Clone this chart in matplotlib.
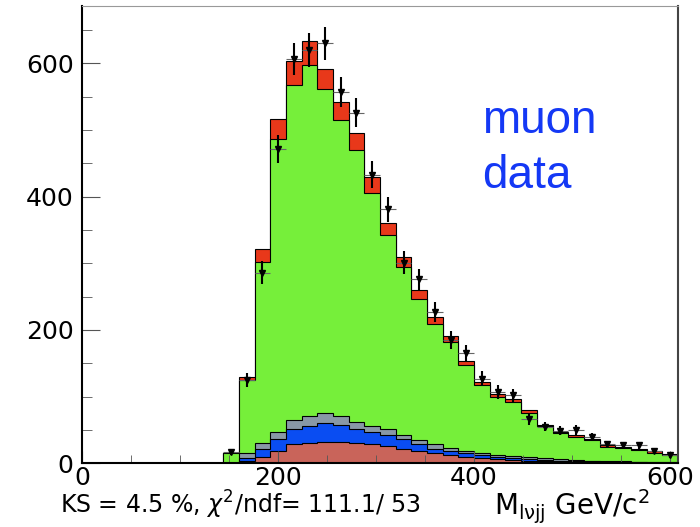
import numpy as np
import matplotlib.pyplot as plt
from matplotlib.ticker import MultipleLocator

plt.rcParams['font.family'] = ['DejaVu Sans']
plt.rcParams['mathtext.fontset'] = 'dejavusans'

# 16 GeV bins from 144 to 608
bin_lo = 144
bin_w = 16
nbins = 29
edges = bin_lo + bin_w * np.arange(nbins + 1)
centers = edges[:-1] + bin_w / 2

# stack tops (cumulative)
red_top = [15, 129, 321, 517, 603, 633, 591, 542, 496, 430, 361, 310, 260, 220, 191,
           154, 122, 104, 96, 80, 58, 47, 42, 37, 27, 25, 22, 18, 14]
green_top = [15, 125, 302, 487, 568, 598, 561, 515, 470, 405, 343, 294, 247, 209, 182,
             147, 117, 99, 92, 76, 56, 45, 40, 35, 25, 23, 20, 16, 12]
gray_top = [0, 16, 31, 47, 65, 71, 75, 71, 62, 56, 51, 43, 35, 29, 23,
            19, 16, 13, 11, 9, 7.5, 6, 5, 4, 3.5, 3, 2.5, 2, 1.5]
blue_top = [0, 8.5, 22, 36, 52, 56, 60, 58, 52, 47, 42, 36, 29, 22, 18,
            15, 12, 10, 8, 6.5, 5, 4, 3.5, 3, 2.5, 2, 1.5, 1.2, 1]
salmon_top = [0, 3, 10, 19, 29, 31, 32, 32, 31, 29, 26, 22, 19, 16, 12,
              10, 7.5, 6, 5, 4, 3, 2.5, 2, 1.5, 1.2, 1, 0.8, 0.6, 0.5]

data = [17, 125, 286, 472, 606, 620, 630, 557, 526, 433, 381, 301, 276, 227, 185,
        166, 127, 107, 102, 66, 55, 49, 50, 40, 29, 27, 27, 19, 12]
data_err = [4, 11, 17, 21, 24, 25, 25, 23, 22, 20, 19, 17, 16, 15, 13,
            12, 11, 10, 10, 8, 7, 7, 7, 6, 5, 5, 5, 4, 4]

fig = plt.figure(figsize=(7, 5.27), dpi=100)
ax = fig.add_axes([82/700, 1 - 463.3/527, 596/700, 457.3/527])

layers = [(red_top, '#e8381a'), (green_top, '#76ef3a'), (gray_top, '#8898a6'),
          (blue_top, '#0a4df2'), (salmon_top, '#c9645a')]
for vals, col in layers:
    ax.stairs(vals, edges, fill=True, facecolor=col, edgecolor='k', linewidth=0.8, baseline=0)

ax.errorbar(centers, data, xerr=bin_w/2, fmt='none', ecolor='#666666', elinewidth=0.8)
ax.errorbar(centers, data, yerr=data_err, fmt='v', color='k', ms=5, elinewidth=1.5, capsize=0)

ax.set_xlim(0, 608)
ax.set_ylim(0, 686)
ax.set_xticks([0, 200, 400, 600])
ax.set_yticks([0, 200, 400, 600])
ax.xaxis.set_minor_locator(MultipleLocator(50))
ax.yaxis.set_minor_locator(MultipleLocator(50))
ax.tick_params(axis='both', which='both', direction='in', colors='#555555', labelcolor='k',
               labelsize=18, top=False, right=False)
ax.tick_params(axis='y', which='major', length=13, pad=6)
ax.tick_params(axis='y', which='minor', length=7)
ax.tick_params(axis='x', which='major', length=9, pad=2)
ax.tick_params(axis='x', which='minor', length=6)
ax.spines['left'].set_linewidth(1.5)
ax.spines['bottom'].set_linewidth(1.5)
ax.spines['top'].set_color('#999999')
ax.spines['right'].set_color('#444444')
ax.spines['right'].set_linewidth(1.5)

ax.text(408, 495, 'muon', color='#1438f5', fontsize=33, va='baseline',
        family=['Liberation Sans', 'DejaVu Sans'])
ax.text(408, 413, 'data', color='#1438f5', fontsize=33, va='baseline',
        family=['Liberation Sans', 'DejaVu Sans'])

fig.text(60/700, 1 - 514/527, r'KS = 4.5 %, $\chi^2$/ndf= 111.1/ 53', fontsize=17, va='baseline')
fig.text(494/700, 1 - 515/527, r'M$_{\mathrm{l\nu jj}}$ GeV/c$^2$', fontsize=20, va='baseline')

fig.savefig('out.png', dpi=100)
